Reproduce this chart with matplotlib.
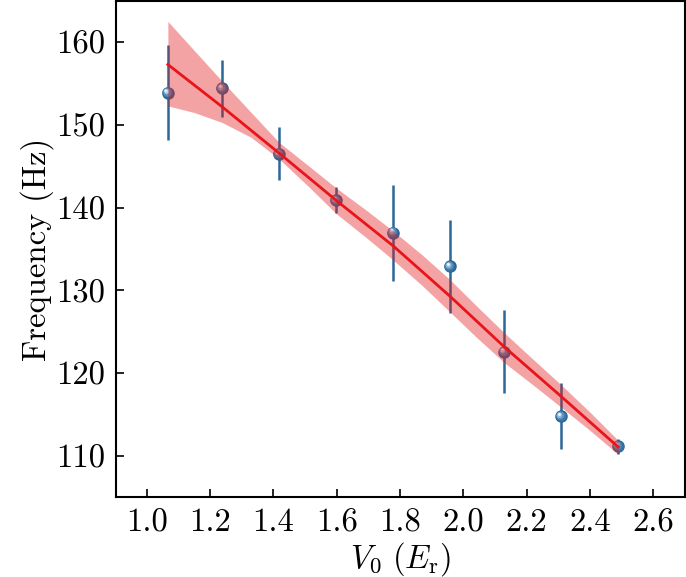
import numpy as np
import matplotlib
matplotlib.use("Agg")
import matplotlib.pyplot as plt
from matplotlib import transforms

plt.rcParams['font.family'] = 'serif'
plt.rcParams['font.serif'] = ['cmr10']
plt.rcParams['mathtext.fontset'] = 'cm'
plt.rcParams['axes.formatter.use_mathtext'] = True

# data
v0 = [1.067, 1.238, 1.418, 1.598, 1.778, 1.958, 2.129, 2.309, 2.489]
freq = [153.9, 154.4, 146.5, 140.9, 137.0, 132.9, 122.6, 114.8, 111.2]
freq_err = [5.7, 3.5, 3.2, 1.6, 5.8, 5.6, 5.0, 4.0, 0.9]
fit = [157.3, 152.2, 146.6, 140.9, 135.4, 129.3, 123.2, 117.2, 111.1]
# confidence band read on a finer grid
band_x = [1.067, 1.15, 1.238, 1.33, 1.418, 1.51, 1.598, 1.69, 1.778, 1.87,
          1.958, 2.04, 2.129, 2.22, 2.309, 2.40, 2.489]
band_hi = [162.5, 159.0, 155.3, 151.5, 147.9, 145.1, 142.4, 139.8, 137.2, 134.3,
           131.3, 128.2, 124.9, 121.7, 118.6, 115.3, 111.9]
band_lo = [152.3, 151.5, 150.3, 148.5, 145.9, 142.6, 139.3, 136.5, 133.7, 130.6,
           127.4, 124.4, 121.3, 118.6, 115.9, 113.1, 110.2]
xticks = [1.0, 1.2, 1.4, 1.6, 1.8, 2.0, 2.2, 2.4, 2.6]
yticks = [110, 120, 130, 140, 150, 160]

fig = plt.figure(figsize=(6.86, 5.77), dpi=100)
ax = fig.add_axes([0.169, 0.1386, 0.8295, 0.8594])

blue = '#2b6797'
ax.errorbar(v0, freq, yerr=freq_err, fmt='none', ecolor=blue, elinewidth=1.8,
            capsize=0, zorder=2)

# sphere-like markers: concentric layers shifted to upper-left
layers = [(9.0, '#2a6494', 0.0), (7.4, '#3a76a5', 0.4), (5.8, '#5690bb', 0.8),
          (4.2, '#87b2d2', 1.2), (2.8, '#c0d8ea', 1.5), (1.5, '#ffffff', 1.8)]
for ms, col, off in layers:
    tr = transforms.offset_copy(ax.transData, fig=fig, x=-off, y=off, units='points')
    ax.plot(v0, freq, 'o', ms=ms, color=col, mec='none', transform=tr, zorder=3)

ax.fill_between(band_x, band_lo, band_hi, color='#e41a1c', alpha=0.4, lw=0, zorder=4)
ax.plot(v0, fit, color='#e8141a', lw=2.0, zorder=5)

ax.set_xlim(0.903, 2.70)
ax.set_ylim(105.05, 164.95)
ax.set_xticks(xticks)
ax.set_yticks(yticks)
ax.set_xticklabels([f'{t:.1f}' for t in xticks])
ax.set_yticklabels([str(t) for t in yticks])
ax.tick_params(direction='in', length=6, width=1.2, labelsize=23.5, pad=8)
for s in ax.spines.values():
    s.set_linewidth(1.5)

ax.set_xlabel(r'$V_0\ (E_\mathrm{r})$', fontsize=23.5, labelpad=2)
ax.set_ylabel('Frequency (Hz)', fontsize=23.5, labelpad=1)

fig.savefig('out.png', dpi=100)
